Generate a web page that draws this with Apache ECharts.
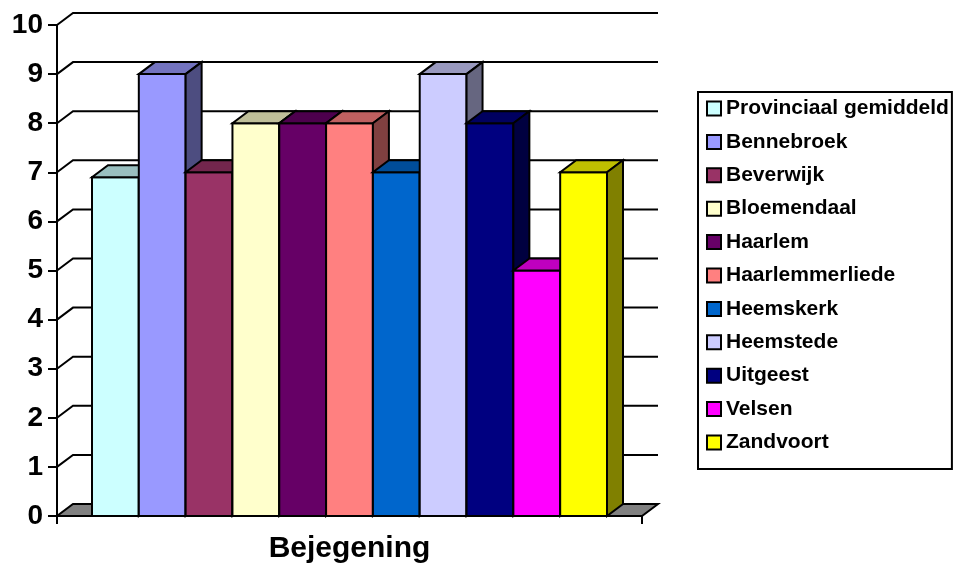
<!DOCTYPE html>
<html>
<head>
<meta charset="utf-8">
<script src="https://cdn.jsdelivr.net/npm/echarts@6.0.0/dist/echarts.min.js"></script>
<style>
  html, body { margin: 0; padding: 0; background: #fff; }
  #chart { width: 957px; height: 572px; }
</style>
</head>
<body>
<div id="chart"></div>
<script>
// Data
const category = ['Bejegening'];
const places = ['Provinciaal gemiddeld', 'Bennebroek', 'Beverwijk', 'Bloemendaal', 'Haarlem',
  'Haarlemmerliede', 'Heemskerk', 'Heemstede', 'Uitgeest', 'Velsen', 'Zandvoort'];
const scores = [6.9, 9, 7, 8, 8, 8, 7, 9, 8, 5, 7];
const colors = ['#CCFFFF', '#9999FF', '#993366', '#FFFFCC', '#660066',
  '#FF8080', '#0066CC', '#CCCCFF', '#000080', '#FF00FF', '#FFFF00'];
const yTicks = [0, 1, 2, 3, 4, 5, 6, 7, 8, 9, 10];

const FONT = '"Liberation Sans", Arial, sans-serif';
// 3D depth offset of the walls and bars
const DX = 16, DY = 12;

function shade(hex, f) {
  const n = parseInt(hex.slice(1), 16);
  const r = Math.round(((n >> 16) & 255) * f);
  const g = Math.round(((n >> 8) & 255) * f);
  const b = Math.round((n & 255) * f);
  return `rgb(${r},${g},${b})`;
}

// back wall grid lines and grey floor
function renderWall(params, api) {
  const cs = params.coordSys;
  const v = api.value(0);
  const y = api.coord([0, v])[1];
  const x0 = cs.x, x1 = cs.x + cs.width;
  if (v === 0) {
    return {
      type: 'polygon',
      shape: { points: [[x0, y], [x1, y], [x1 + DX, y - DY], [x0 + DX, y - DY]] },
      style: { fill: '#808080', stroke: '#000', lineWidth: 2 }
    };
  }
  return {
    type: 'polyline',
    shape: { points: [[x0, y], [x0 + DX, y - DY], [x1 + DX, y - DY]] },
    style: { fill: null, stroke: '#000', lineWidth: 2 }
  };
}

function renderBox(color) {
  return function (params, api) {
    const i = api.value(0);
    const top = api.coord([i, api.value(1)]);
    const bot = api.coord([i, 0]);
    const w = api.size([1, 0])[0];
    const x0 = top[0] - w / 2, x1 = top[0] + w / 2;
    const yT = top[1], yB = bot[1];
    const edge = { stroke: '#000', lineWidth: 2, lineJoin: 'miter' };
    return {
      type: 'group',
      children: [
        { type: 'rect', shape: { x: x0, y: yT, width: w, height: yB - yT },
          style: { fill: color, ...edge } },
        { type: 'polygon', shape: { points: [[x0, yT], [x1, yT], [x1 + DX, yT - DY], [x0 + DX, yT - DY]] },
          style: { fill: shade(color, 0.75), ...edge } },
        { type: 'polygon', shape: { points: [[x1, yT], [x1 + DX, yT - DY], [x1 + DX, yB - DY], [x1, yB]] },
          style: { fill: shade(color, 0.5), ...edge } }
      ]
    };
  };
}

const chart = echarts.init(document.getElementById('chart'), null, { renderer: 'canvas' });

const barSeries = places.map((name, i) => ({
  type: 'custom',
  name: name,
  xAxisIndex: 1,
  yAxisIndex: 1,
  z: 3,
  itemStyle: { color: colors[i], borderColor: '#000', borderWidth: 1.5 },
  renderItem: renderBox(colors[i]),
  data: [[i, scores[i]]]
}));

const option = {
  animation: false,
  backgroundColor: '#fff',
  textStyle: { fontFamily: FONT },
  grid: [
    { left: 57, right: 315, top: 25, bottom: 56 },
    { left: 92, right: 350, top: 25, bottom: 56 }
  ],
  xAxis: [
    {
      gridIndex: 0,
      type: 'category',
      data: category,
      axisLine: { lineStyle: { color: '#000', width: 2 } },
      axisTick: { show: true, length: 8, lineStyle: { color: '#000', width: 2 } },
      axisLabel: { color: '#000', fontFamily: FONT, fontWeight: 'bold', fontSize: 30, margin: 18 }
    },
    {
      gridIndex: 1,
      type: 'category',
      data: places,
      show: false
    }
  ],
  yAxis: [
    {
      gridIndex: 0,
      type: 'value',
      min: 0,
      max: 10,
      interval: 1,
      axisLine: { show: true, lineStyle: { color: '#000', width: 2 } },
      axisTick: { show: true, length: 9, lineStyle: { color: '#000', width: 2 } },
      splitLine: { show: false },
      axisLabel: { color: '#000', fontFamily: FONT, fontWeight: 'bold', fontSize: 28, margin: 14 }
    },
    {
      gridIndex: 1,
      type: 'value',
      min: 0,
      max: 10,
      show: false
    }
  ],
  legend: {
    orient: 'vertical',
    left: 698,
    top: 92,
    padding: [6, 3, 16, 8],
    itemGap: 12.4,
    itemWidth: 14,
    itemHeight: 14,
    icon: 'rect',
    borderColor: '#000',
    borderWidth: 2,
    data: places,
    textStyle: { color: '#000', fontFamily: FONT, fontWeight: 'bold', fontSize: 21, lineHeight: 21 }
  },
  series: [
    {
      type: 'custom',
      name: 'wall',
      xAxisIndex: 0,
      yAxisIndex: 0,
      z: 1,
      silent: true,
      renderItem: renderWall,
      data: yTicks.map(v => [v])
    },
    ...barSeries
  ]
};

chart.setOption(option);
</script>
</body>
</html>
